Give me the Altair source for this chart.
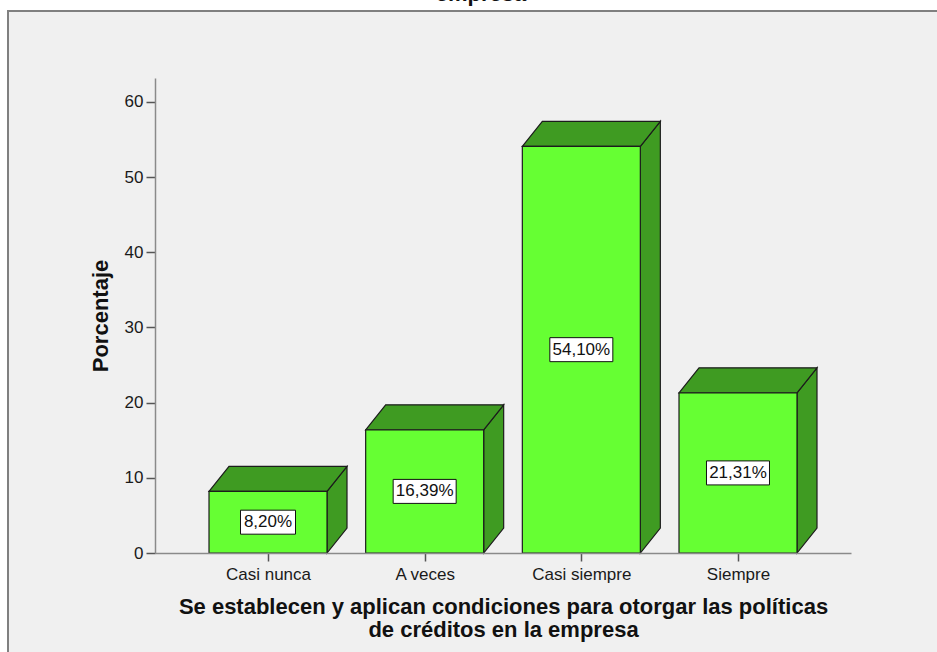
import json
import altair as alt
import pandas as pd

# Survey answers and their percentages
categories = ["Casi nunca", "A veces", "Casi siempre", "Siempre"]
percentages = [8.20, 16.39, 54.10, 21.31]
y_ticks = [0, 10, 20, 30, 40, 50, 60]
x_title = ["Se establecen y aplican condiciones para otorgar las políticas",
           "de créditos en la empresa"]
y_title = "Porcentaje"
top_fragment = "empresa"

# Plot geometry (pixels)
PLOT_W, PLOT_H = 696, 475
PAD = {"left": 155, "top": 78, "right": 86, "bottom": 99}
X_DOMAIN = [-0.7213, 3.7213]
Y_DOMAIN = [0, 63.19]
PX_X = PLOT_W / (X_DOMAIN[1] - X_DOMAIN[0])
PX_Y = PLOT_H / (Y_DOMAIN[1] - Y_DOMAIN[0])
HALF_BAR = 59 / PX_X          # half of the front face width
DEPTH_X = 20 / PX_X           # 3D depth, horizontal
DEPTH_Y = 25 / PX_Y           # 3D depth, vertical

FONT = "Liberation Sans"
FRONT = "#66FF33"
SHADE = "#3F9B22"
EDGE = "#1c1c1c"
AXIS_GREY = "#8a8a8a"

def fmt(v):
    return f"{v:.2f}".replace(".", ",") + "%"

bars = pd.DataFrame({
    "cat": categories,
    "idx": list(range(len(categories))),
    "pct": percentages,
})
bars["x0"] = bars["idx"] - HALF_BAR
bars["x1"] = bars["idx"] + HALF_BAR
bars["mid"] = bars["pct"] / 2
bars["label"] = [fmt(v) for v in percentages]
bars["bx0"] = bars["idx"] - (4 * bars["label"].str.len() + 7.5) / PX_X
bars["bx1"] = bars["idx"] + (4 * bars["label"].str.len() + 7.5) / PX_X

side_rows, top_rows = [], []
for c, i, v in zip(categories, bars["idx"], percentages):
    side_rows.append({"cat": c, "x": i + HALF_BAR, "top": v, "bot": 0})
    side_rows.append({"cat": c, "x": i + HALF_BAR + DEPTH_X, "top": v + DEPTH_Y, "bot": DEPTH_Y})
    top_rows.append({"cat": c, "y": v, "xl": i - HALF_BAR, "xr": i + HALF_BAR})
    top_rows.append({"cat": c, "y": v + DEPTH_Y, "xl": i - HALF_BAR + DEPTH_X, "xr": i + HALF_BAR + DEPTH_X})
side = pd.DataFrame(side_rows)
top = pd.DataFrame(top_rows)

xs = alt.Scale(domain=X_DOMAIN, nice=False, zero=False)
ys = alt.Scale(domain=Y_DOMAIN, nice=False)

label_expr = json.dumps(categories) + "[datum.value]"

x_axis = alt.Axis(
    values=list(range(len(categories))), labelExpr=label_expr, grid=False, zindex=1,
    domainColor=AXIS_GREY, domainWidth=1.5, tickColor="#555555", tickSize=8, tickWidth=1.5,
    labelFont=FONT, labelFontSize=17, labelColor="#1a1a1a", labelPadding=5,
    title=x_title, titleFont=FONT, titleFontSize=22, titleFontWeight="bold",
    titleColor="#111111", titleLineHeight=23, titleBaseline="top", titleY=43,
)
y_axis = alt.Axis(
    values=y_ticks, grid=False, zindex=1,
    domainColor=AXIS_GREY, domainWidth=1.5, tickColor="#555555", tickSize=9, tickWidth=1.5,
    labelFont=FONT, labelFontSize=17, labelColor="#1a1a1a", labelPadding=3,
    title=y_title, titleFont=FONT, titleFontSize=22, titleFontWeight="bold",
    titleColor="#111111", titleAngle=270, titleX=-55, titleY=PLOT_H / 2,
    titleAlign="center", titleBaseline="middle",
)

# Outer panel frame with grey fill
frame = alt.Chart(pd.DataFrame({"k": [0]})).mark_rect(
    fill="#F0F0F0", stroke="#808080", strokeWidth=2
).encode(
    x=alt.value(-147), x2=alt.value(PLOT_W + 200),
    y=alt.value(-67), y2=alt.value(PLOT_H + 200),
)

fragment = alt.Chart(pd.DataFrame({"t": [top_fragment]})).mark_text(
    font=FONT, fontSize=22, fontWeight="bold", color="#111111",
    align="center", baseline="alphabetic"
).encode(text="t:N", x=alt.value(326), y=alt.value(-77))

side_faces = alt.Chart(side).mark_area(
    fill=SHADE, stroke=EDGE, strokeWidth=1.2, interpolate="linear"
).encode(
    x=alt.X("x:Q", scale=xs, axis=x_axis),
    y=alt.Y("top:Q", scale=ys, axis=y_axis),
    y2="bot:Q",
    detail="cat:N",
)

top_faces = alt.Chart(top).mark_area(
    fill=SHADE, stroke=EDGE, strokeWidth=1.2, orient="horizontal", interpolate="linear"
).encode(
    y=alt.Y("y:Q", scale=ys, axis=y_axis),
    x=alt.X("xl:Q", scale=xs, axis=x_axis),
    x2="xr:Q",
    detail="cat:N",
)

front = alt.Chart(bars).mark_rect(
    fill=FRONT, stroke=EDGE, strokeWidth=1.2
).encode(
    x=alt.X("x0:Q", scale=xs, axis=x_axis),
    x2="x1:Q",
    y=alt.Y("pct:Q", scale=ys, axis=y_axis),
    y2=alt.datum(0),
)

boxes = alt.Chart(bars).mark_rect(
    fill="white", stroke="#111111", strokeWidth=1, yOffset=-12, y2Offset=12
).encode(
    x=alt.X("bx0:Q", scale=xs, axis=x_axis),
    x2="bx1:Q",
    y=alt.Y("mid:Q", scale=ys, axis=y_axis),
    y2="mid:Q",
)

labels = alt.Chart(bars).mark_text(
    font=FONT, fontSize=17, color="#111111", align="center", baseline="middle"
).encode(
    x=alt.X("idx:Q", scale=xs, axis=x_axis),
    y=alt.Y("mid:Q", scale=ys, axis=y_axis),
    text="label:N",
)

chart = alt.layer(
    frame, fragment, side_faces, top_faces, front, boxes, labels
).properties(
    width=PLOT_W, height=PLOT_H,
    autosize=alt.AutoSizeParams(type="none"),
    padding=PAD,
    background="white",
).configure_view(stroke=None)

chart.save("out.html", embed_options={"renderer": "svg", "actions": False})
